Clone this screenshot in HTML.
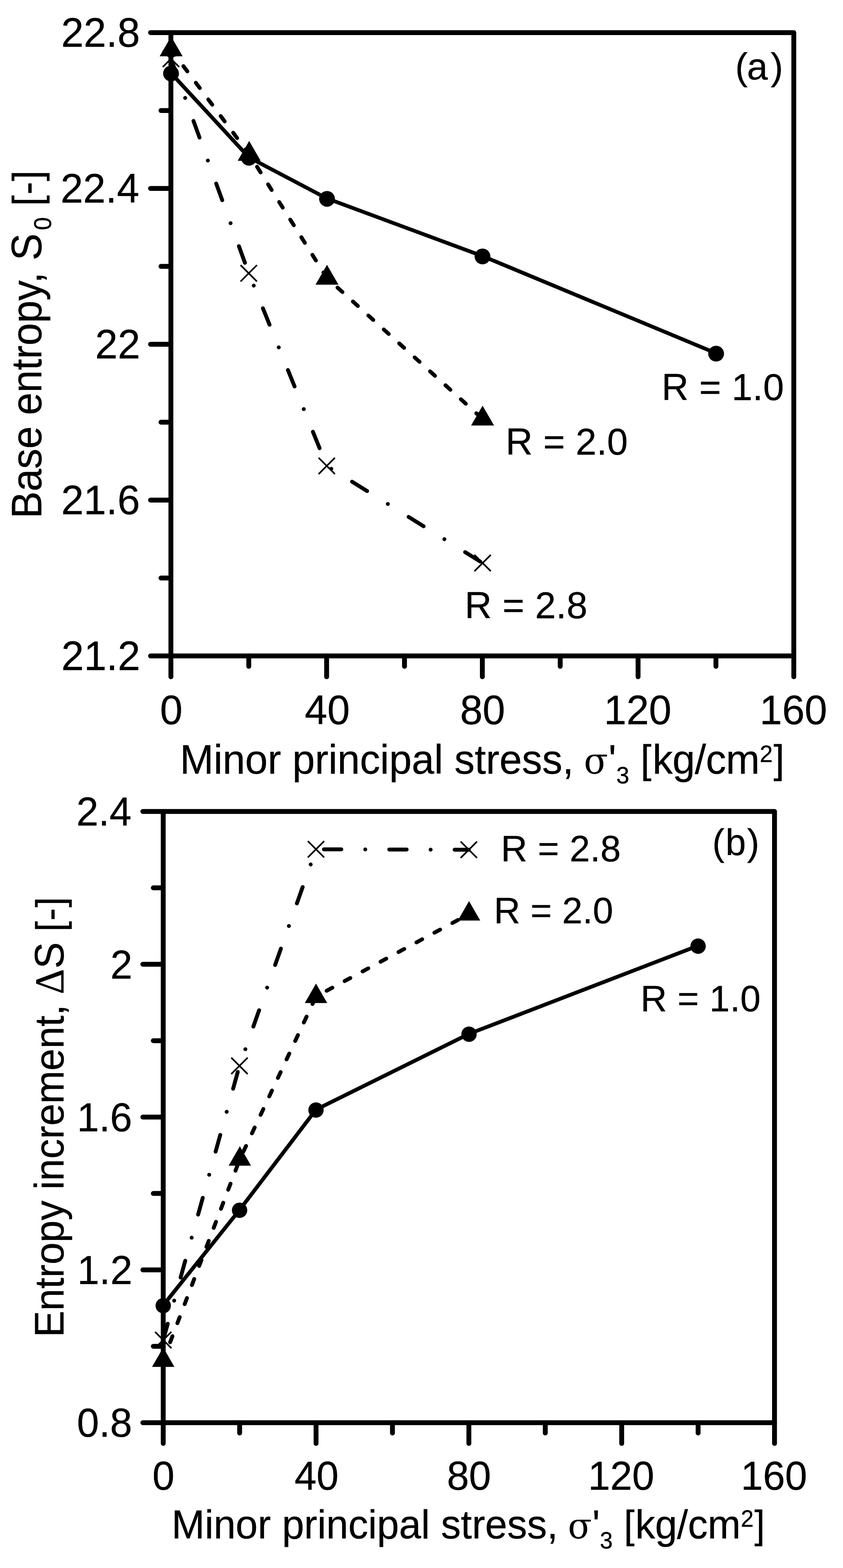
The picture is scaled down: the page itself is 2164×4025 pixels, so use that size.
<!DOCTYPE html>
<html lang="en"><head><meta charset="utf-8"><title>Base entropy and entropy increment versus minor principal stress</title>
<style>html,body{margin:0;padding:0;background:#fff}body{width:2164px;height:4025px}svg{display:block}text{font-family:"Liberation Sans",sans-serif;fill:#000;stroke:#000;stroke-width:.5px;white-space:pre}.s{font-family:"Liberation Serif",serif}.d{font-family:"DejaVu Serif","Liberation Serif",serif;stroke:none}</style>
</head><body>
<svg width="2164" height="4025" viewBox="0 0 2164 4025">
<rect width="2164" height="4025" fill="#fff"/>
<g id="chart-a">
<rect x="438.7" y="83.7" width="1599" height="1600.1" fill="none" stroke="#000" stroke-width="12.5" stroke-linejoin="round"/>
<path d="M438.7 1683.8v53.5 M438.7 83.7h-52.3 M638.58 1683.8v26.7 M438.7 283.71h-25.5 M838.45 1683.8v53.5 M438.7 483.72h-52.3 M1038.33 1683.8v26.7 M438.7 683.74h-25.5 M1238.2 1683.8v53.5 M438.7 883.75h-52.3 M1438.08 1683.8v26.7 M438.7 1083.76h-25.5 M1637.95 1683.8v53.5 M438.7 1283.77h-52.3 M1837.83 1683.8v26.7 M438.7 1483.79h-25.5 M2037.7 1683.8v53.5 M438.7 1683.8h-52.3" fill="none" stroke="#000" stroke-width="12.5" stroke-linecap="round"/>
<text transform="translate(0 120) scale(1 1.020)" font-size="104"><tspan x="156.91" y="0">22.8</tspan></text>
<text transform="translate(0 520.02) scale(1 1.020)" font-size="104"><tspan x="155.43" y="0">22.4</tspan></text>
<text transform="translate(0 920.05) scale(1 1.020)" font-size="104"><tspan x="244.35" y="0">22</tspan></text>
<text transform="translate(0 1320.07) scale(1 1.020)" font-size="104"><tspan x="156.96" y="0">21.6</tspan></text>
<text transform="translate(0 1720.1) scale(1 1.020)" font-size="104"><tspan x="157.62" y="0">21.2</tspan></text>
<text transform="translate(0 1858.8) scale(1 1.020)" font-size="104"><tspan x="410.68" y="0">0</tspan></text>
<text transform="translate(0 1858.8) scale(1 1.020)" font-size="104"><tspan x="782.35" y="0">40</tspan></text>
<text transform="translate(0 1858.8) scale(1 1.020)" font-size="104"><tspan x="1181.03" y="0">80</tspan></text>
<text transform="translate(0 1858.8) scale(1 1.020)" font-size="104"><tspan x="1550.16" y="0">120</tspan></text>
<text transform="translate(0 1858.8) scale(1 1.020)" font-size="104"><tspan x="1949.91" y="0">160</tspan></text>
<polyline points="439,187.7 639,404 839.5,509.5 1238.6,657.3 1838.3,906.8" fill="none" stroke="#000" stroke-width="9.8" stroke-linejoin="round" stroke-linecap="round"/>
<polyline points="439.3,127.5 639.6,395.8 839.4,713.8 1238.8,1075.3" fill="none" stroke="#000" stroke-width="10" stroke-linejoin="round" stroke-linecap="round" stroke-dasharray="17 36.4" stroke-dashoffset="0.8"/>
<polyline points="438.9,151 638.5,701.5 838.8,1196 1238.9,1445.3" fill="none" stroke="#000" stroke-width="10" stroke-linejoin="round" stroke-linecap="round" stroke-dasharray="45.5 62.75 0.01 62.75" stroke-dashoffset="1.5"/>
<circle cx="439" cy="188.7" r="20.3"/>
<circle cx="639" cy="405" r="20.3"/>
<circle cx="839.5" cy="510.5" r="20.3"/>
<circle cx="1238.6" cy="658.3" r="20.3"/>
<circle cx="1838.3" cy="907.8" r="20.3"/>
<path d="M439.3 93.5L468.8 144.5H409.8Z"/>
<path d="M639.6 361.8L669.1 412.8H610.1Z"/>
<path d="M839.4 679.8L868.9 730.8H809.9Z"/>
<path d="M1238.8 1041.3L1268.3 1092.3H1209.3Z"/>
<path d="M417.9 130l42 42M417.9 172l42 -42 M617.5 680.5l42 42M617.5 722.5l42 -42 M817.8 1175l42 42M817.8 1217l42 -42 M1217.9 1424.3l42 42M1217.9 1466.3l42 -42" fill="none" stroke="#000" stroke-width="4.2"/>
<text transform="translate(0 203.6)" font-size="96"><tspan x="1887.15" y="0">(</tspan><tspan x="1917.42" y="0">a</tspan><tspan x="1978.24" y="0">)</tspan></text>
<text transform="translate(0 1026.9) scale(1 1.010)" font-size="96"><tspan x="1698.33" y="0" letter-spacing="0.31">R = 1.0</tspan></text>
<text transform="translate(0 1166.6) scale(1 1.010)" font-size="96"><tspan x="1298.12" y="0" letter-spacing="0.24">R = 2.0</tspan></text>
<text transform="translate(0 1586.9) scale(1 1.010)" font-size="96"><tspan x="1193.12" y="0" letter-spacing="0.43">R = 2.8</tspan></text>
<text transform="translate(0 1985.6) scale(1 1.020)" font-size="104"><tspan x="461.77" y="0" letter-spacing="-0.02">Minor principal stress, </tspan><tspan x="1498.87" y="0" font-size="91" class="d">σ</tspan><tspan x="1562.02" y="0">'</tspan><tspan x="1582.11" y="24.9" font-size="60">3 </tspan><tspan x="1644.47" y="-1.67" font-size="100">[</tspan><tspan x="1674.89" y="0" letter-spacing="-0.55">kg/cm</tspan><tspan x="1950.38" y="-29.31" font-size="60">2</tspan><tspan x="1985.82" y="-1.67" font-size="100">]</tspan></text>
<text transform="translate(106.2 0) rotate(-90) scale(1 1.050)" font-size="104"><tspan x="-1330.73" y="0" letter-spacing="-0.16">Base entropy, </tspan><tspan x="-668.52" y="0">S</tspan><tspan x="-590.84" y="23.24" font-size="60">0 </tspan><tspan x="-528.76" y="-1.52" font-size="99" letter-spacing="1.67">[-]</tspan></text>
</g>
<g id="chart-b">
<rect x="419.0" y="2083.0" width="1569.2" height="1569" fill="none" stroke="#000" stroke-width="12.5" stroke-linejoin="round"/>
<path d="M419 3652.0v53.3 M419.0 2083h-52.3 M615.15 3652.0v26.5 M419.0 2279.12h-25.5 M811.3 3652.0v53.3 M419.0 2475.25h-52.3 M1007.45 3652.0v26.5 M419.0 2671.38h-25.5 M1203.6 3652.0v53.3 M419.0 2867.5h-52.3 M1399.75 3652.0v26.5 M419.0 3063.62h-25.5 M1595.9 3652.0v53.3 M419.0 3259.75h-52.3 M1792.05 3652.0v26.5 M419.0 3455.88h-25.5 M1988.2 3652.0v53.3 M419.0 3652h-52.3" fill="none" stroke="#000" stroke-width="12.5" stroke-linecap="round"/>
<text transform="translate(0 2119.3) scale(1 1.020)" font-size="102"><tspan x="195.99" y="0">2.4</tspan></text>
<text transform="translate(0 2511.55) scale(1 1.020)" font-size="102"><tspan x="283.2" y="0">2</tspan></text>
<text transform="translate(0 2903.8) scale(1 1.020)" font-size="102"><tspan x="197.49" y="0">1.6</tspan></text>
<text transform="translate(0 3296.05) scale(1 1.020)" font-size="102"><tspan x="198.14" y="0">1.2</tspan></text>
<text transform="translate(0 3688.3) scale(1 1.020)" font-size="102"><tspan x="197.44" y="0">0.8</tspan></text>
<text transform="translate(0 3824) scale(1 1.020)" font-size="102"><tspan x="391.14" y="0">0</tspan></text>
<text transform="translate(0 3824) scale(1 1.020)" font-size="102"><tspan x="755.89" y="0">40</tspan></text>
<text transform="translate(0 3824) scale(1 1.020)" font-size="102"><tspan x="1147.15" y="0">80</tspan></text>
<text transform="translate(0 3824) scale(1 1.020)" font-size="102"><tspan x="1509.42" y="0">120</tspan></text>
<text transform="translate(0 3824) scale(1 1.020)" font-size="102"><tspan x="1901.72" y="0">160</tspan></text>
<polyline points="419,3350.6 615,3105.8 811.2,2848.4 1204,2653.8 1792,2427.7" fill="none" stroke="#000" stroke-width="9.8" stroke-linejoin="round" stroke-linecap="round"/>
<polyline points="419,3492 615.7,2975.6 811.2,2558 1204,2346.3" fill="none" stroke="#000" stroke-width="10" stroke-linejoin="round" stroke-linecap="round" stroke-dasharray="16.67 35.70" stroke-dashoffset="2.65"/>
<polyline points="419,3439.7 614.7,2736 811.2,2180.1 1203.5,2181.3" fill="none" stroke="#000" stroke-width="10" stroke-linejoin="round" stroke-linecap="round" stroke-dasharray="44.62 61.54 0.01 61.54" stroke-dashoffset="1.3"/>
<circle cx="419" cy="3351.6" r="19.7"/>
<circle cx="615" cy="3106.8" r="19.7"/>
<circle cx="811.2" cy="2849.4" r="19.7"/>
<circle cx="1204" cy="2654.8" r="19.7"/>
<circle cx="1792" cy="2428.7" r="19.7"/>
<path d="M419 3458.67L447.75 3508.67H390.25Z"/>
<path d="M615.7 2942.27L644.45 2992.27H586.95Z"/>
<path d="M811.2 2524.67L839.95 2574.67H782.45Z"/>
<path d="M1204 2312.97L1232.75 2362.97H1175.25Z"/>
<path d="M398 3418.7l42 42M398 3460.7l42 -42 M593.7 2715l42 42M593.7 2757l42 -42 M790.2 2159.1l42 42M790.2 2201.1l42 -42 M1182.5 2160.3l42 42M1182.5 2202.3l42 -42" fill="none" stroke="#000" stroke-width="4.2"/>
<text transform="translate(0 2194.9)" font-size="94"><tspan x="1828.47" y="0" letter-spacing="2.84">(b)</tspan></text>
<text transform="translate(0 2211) scale(1 1.010)" font-size="94"><tspan x="1285.69" y="0" letter-spacing="0.37">R = 2.8</tspan></text>
<text transform="translate(0 2369.9) scale(1 1.010)" font-size="94"><tspan x="1267.69" y="0" letter-spacing="0.1">R = 2.0</tspan></text>
<text transform="translate(0 2596.4) scale(1 1.010)" font-size="94"><tspan x="1644.29" y="0" letter-spacing="0.43">R = 1.0</tspan></text>
<text transform="translate(0 3949.2) scale(1 1.020)" font-size="102"><tspan x="440.53" y="0" letter-spacing="0">Minor principal stress, </tspan><tspan x="1457.82" y="0" font-size="90" class="d">σ</tspan><tspan x="1520.62" y="0">'</tspan><tspan x="1539.95" y="24.8" font-size="59">3 </tspan><tspan x="1601.81" y="-1.47" font-size="98">[</tspan><tspan x="1630.83" y="0" letter-spacing="-0.36">kg/cm</tspan><tspan x="1901.83" y="-29.31" font-size="59">2</tspan><tspan x="1936.63" y="-1.47" font-size="98">]</tspan></text>
<text transform="translate(163.2 0) rotate(-90) scale(1 1.040)" font-size="102"><tspan x="-3432.57" y="0" letter-spacing="-0.12">Entropy increment, </tspan><tspan x="-2552.35" y="0" font-size="101" class="s">Δ</tspan><tspan x="-2486.43" y="0">S </tspan><tspan x="-2391.62" y="-0.67" font-size="97" letter-spacing="1.46">[-]</tspan></text>
</g>
</svg></body></html>
